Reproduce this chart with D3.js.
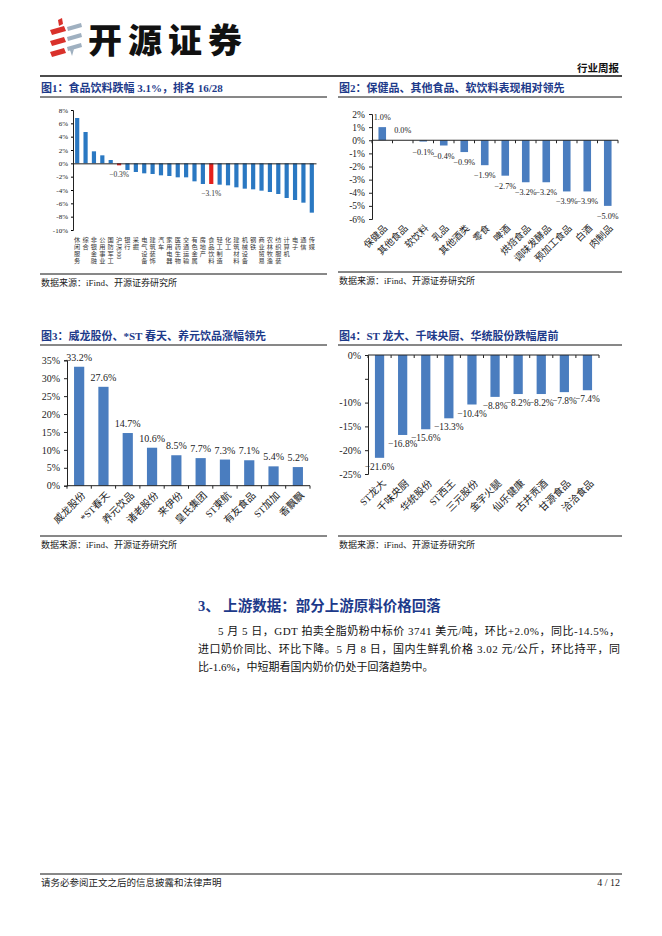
<!DOCTYPE html>
<html><head><meta charset="utf-8">
<script src="https://cdn.jsdelivr.net/npm/d3@7"></script>
<style>
html,body{margin:0;padding:0;background:#fff;}
svg{display:block;}
</style></head>
<body>
<div id="page"></div>
<script>
// 图1 申万行业周涨跌幅
const industries = ['休闲服务','综合','非银金融','公用事业','国防军工','沪深300','银行','采掘','电气设备','建筑装饰','汽车','家用电器','医药生物','交通运输','有色金属','房地产','食品饮料','轻工制造','化工','建筑材料','机械设备','钢铁','商业贸易','农林牧渔','纺织服装','计算机','电子','通信','传媒'];
const industryChg = [6.8,4.7,1.8,1.2,0.5,-0.3,-1.0,-1.3,-1.5,-1.6,-1.8,-1.9,-2.1,-2.1,-2.7,-3.1,-3.1,-3.2,-3.3,-3.6,-3.8,-3.9,-4.1,-4.3,-4.6,-5.2,-5.5,-5.9,-7.4];
const industryTicks = [8,6,4,2,0,-2,-4,-6,-8,-10];

// 图2 子板块
const subSectors = ['保健品','其他食品','软饮料','乳品','其他酒类','零食','啤酒','烘焙食品','调味发酵品','预加工食品','白酒','肉制品'];
const subSectorChg = [1.0,0.0,-0.1,-0.4,-0.9,-1.9,-2.7,-3.2,-3.2,-3.9,-3.9,-5.0];
const subSectorTicks = [2,1,0,-1,-2,-3,-4,-5,-6];

// 图3 涨幅前十
const gainers = ['威龙股份','*ST春天','养元饮品','诸老股份','来伊份','皇氏集团','ST東航','有友食品','ST加加','香飘飘'];
const gainerChg = [33.2,27.6,14.7,10.6,8.5,7.7,7.3,7.1,5.4,5.2];
const gainerTicks = [0,5,10,15,20,25,30,35];

// 图4 跌幅前十
const losers = ['ST龙大','千味央厨','华统股份','ST西王','三元股份','金字火腿','仙乐健康','古井贡酒','甘源食品','洽洽食品'];
const loserChg = [-21.6,-16.8,-15.6,-13.3,-10.4,-8.8,-8.2,-8.2,-7.8,-7.4];
const loserTicks = [0,-5,-10,-15,-20,-25];
const loserTickLabels = ['0%','','-10%','-15%','-20%','-25%'];

const W = 662, H = 936;
const SERIF = "'Liberation Serif','Noto Sans CJK SC',serif";
const CJK = "'Liberation Serif','Noto Sans CJK SC',sans-serif";
const NAVY = '#1d3a8a';
const BLUE1 = '#2a78c2';
const BLUE = '#4a7dbf';
const RED = '#e3201c';

const svg = d3.select('#page').append('svg').attr('width', W).attr('height', H);

// ---------- header ----------
const logo = svg.append('g');
const red = '#d9312b', grey = '#9fb0c0';
[0, 11, 22].forEach(dy => {
  logo.append('path')
    .attr('d', `M50,${30+dy} L64,${26+dy} L66,${31+dy} L52,${35+dy} Z`)
    .attr('fill', red);
});
logo.append('path').attr('d', 'M58,20 L62,18 L63,24 L59,26 Z').attr('fill', red);
[0, 10, 20].forEach(dy => {
  logo.append('path')
    .attr('d', `M67,${27+dy} L81,${23+dy} L82,${27+dy} L68,${31+dy} Z`)
    .attr('fill', grey);
});
logo.append('path').attr('d', 'M70,50 L74,49 L72,56 Z').attr('fill', grey);

svg.append('text').attr('x', 88).attr('y', 53)
  .attr('font-family', "'Noto Sans CJK SC',sans-serif").attr('font-weight', 900)
  .attr('font-size', 34).attr('letter-spacing', 6).attr('fill', '#111')
  .text('开源证券');

svg.append('text').attr('x', 619).attr('y', 72).attr('text-anchor', 'end')
  .attr('font-family', CJK).attr('font-weight', 700).attr('font-size', 10.5).attr('fill', '#111')
  .text('行业周报');
svg.append('line').attr('x1', 40).attr('x2', 622).attr('y1', 76).attr('y2', 76)
  .attr('stroke', '#111').attr('stroke-width', 1.3);

// ---------- figure frames ----------
function frame(x, y, w, title, srcY) {
  svg.append('text').attr('x', x + 1).attr('y', y)
    .attr('font-family', CJK).attr('font-weight', 700).attr('font-size', 11).attr('fill', NAVY)
    .text(title);
  svg.append('line').attr('x1', x).attr('x2', x + w).attr('y1', y + 5).attr('y2', y + 5)
    .attr('stroke', '#111').attr('stroke-width', 1);
  svg.append('line').attr('x1', x).attr('x2', x + w).attr('y1', srcY).attr('y2', srcY)
    .attr('stroke', '#111').attr('stroke-width', 1);
  svg.append('text').attr('x', x + 1).attr('y', srcY + 12)
    .attr('font-family', CJK).attr('font-size', 9).attr('fill', '#222')
    .text('数据来源：iFind、开源证券研究所');
}
frame(40, 92, 287, '图1：食品饮料跌幅 3.1%，排名 16/28', 274);
frame(338, 92, 284, '图2：保健品、其他食品、软饮料表现相对领先', 272);
frame(40, 340, 287, '图3：威龙股份、*ST 春天、养元饮品涨幅领先', 536);
frame(338, 340, 284, '图4：ST 龙大、千味央厨、华统股份跌幅居前', 536);

const pct = d => d3.format('.1f')(d) + '%';

// ---------- 图1 ----------
{
  const x = d3.scaleBand().domain(industries).range([73, 316]).paddingInner(0.5).paddingOuter(0.25);
  const y = d3.scaleLinear().domain([-10, 8]).range([230, 110]);
  const g = svg.append('g');
  g.append('g').attr('transform', 'translate(73,0)')
    .call(d3.axisLeft(y).tickValues(industryTicks).tickSize(2).tickFormat(d => d + '%'))
    .call(a => a.select('.domain').attr('stroke', '#222'))
    .call(a => a.selectAll('text').attr('font-family', SERIF).attr('font-size', 7).attr('fill', '#222'));
  g.selectAll('rect').data(industries).join('rect')
    .attr('x', d => x(d)).attr('width', x.bandwidth())
    .attr('y', (d, i) => y(Math.max(0, industryChg[i])))
    .attr('height', (d, i) => Math.abs(y(industryChg[i]) - y(0)))
    .attr('fill', d => (d === '食品饮料' || d === '沪深300') ? RED : BLUE1);
  g.append('g').attr('transform', `translate(0,${y(0)})`)
    .call(d3.axisBottom(x).tickSize(0).tickFormat(''))
    .call(a => a.select('.domain').attr('stroke', '#222'));
  // vertical (stacked) category labels
  industries.forEach(name => {
    const cx = x(name) + x.bandwidth() / 2;
    let yy = 239;
    const tokens = name.match(/\d+|./g);
    tokens.forEach(tk => {
      if (/^\d+$/.test(tk)) {
        g.append('text').attr('transform', `translate(${cx - 2},${yy - 3.5}) rotate(90)`)
          .attr('font-family', SERIF).attr('font-size', 6.2).attr('fill', '#333').text(tk);
        yy += tk.length * 3.3 + 1;
      } else {
        g.append('text').attr('x', cx).attr('y', yy).attr('text-anchor', 'middle')
          .attr('dominant-baseline', 'central')
          .attr('font-family', CJK).attr('font-size', 6.2).attr('fill', '#333').text(tk);
        yy += 7.3;
      }
    });
  });
  ['沪深300', '食品饮料'].forEach(k => {
    const i = industries.indexOf(k);
    g.append('text').attr('x', x(k) + x.bandwidth() / 2).attr('y', y(industryChg[i]) + 12)
      .attr('text-anchor', 'middle').attr('font-family', SERIF).attr('font-size', 7.5).attr('fill', '#333')
      .text(pct(industryChg[i]));
  });
}

// ---------- generic bar chart ----------
function barChart({cats, vals, x0, x1, yDomain, yRange, ticks, tickLabels, fs, vfs, labelGap, catY, catDx, barPad, yLabelFs}) {
  const g = svg.append('g');
  const x = d3.scaleBand().domain(cats).range([x0, x1]).paddingInner(barPad).paddingOuter(barPad / 2);
  const y = d3.scaleLinear().domain(yDomain).range(yRange);
  g.append('g').attr('transform', `translate(${x0},0)`)
    .call(d3.axisLeft(y).tickValues(ticks).tickSize(3).tickPadding(4)
      .tickFormat((d, i) => tickLabels ? tickLabels[i] : d + '%'))
    .call(a => a.select('.domain').attr('stroke', '#222'))
    .call(a => a.selectAll('line').attr('stroke', '#222'))
    .call(a => a.selectAll('text').attr('font-family', SERIF).attr('font-size', yLabelFs).attr('fill', '#222'));
  g.selectAll('rect').data(cats).join('rect')
    .attr('x', d => x(d)).attr('width', x.bandwidth())
    .attr('y', (d, i) => y(Math.max(0, vals[i])))
    .attr('height', (d, i) => Math.abs(y(vals[i]) - y(0)))
    .attr('fill', BLUE);
  // zero axis with ticks at band edges
  const edges = cats.map(d => x(d) - x.step() * x.paddingInner() / 2).concat([x1]);
  g.append('line').attr('x1', x0).attr('x2', x1).attr('y1', y(0)).attr('y2', y(0)).attr('stroke', '#222');
  g.selectAll('line.edge').data(edges).join('line').attr('class', 'edge')
    .attr('x1', d => d).attr('x2', d => d).attr('y1', y(0)).attr('y2', y(0) + 3).attr('stroke', '#222');
  g.selectAll('text.val').data(cats).join('text').attr('class', 'val')
    .attr('x', d => x(d) + x.bandwidth() / 2)
    .attr('y', (d, i) => vals[i] >= 0 ? y(vals[i]) - labelGap + 3 : y(vals[i]) + labelGap + 3)
    .attr('text-anchor', 'middle').attr('font-family', SERIF).attr('font-size', vfs).attr('fill', '#222')
    .text((d, i) => pct(vals[i]));
  g.selectAll('text.cat').data(cats).join('text').attr('class', 'cat')
    .attr('transform', d => `translate(${x(d) + x.bandwidth() / 2 + catDx},${catY}) rotate(-45)`)
    .attr('text-anchor', 'end').attr('dy', '0.7em')
    .attr('font-family', CJK).attr('font-size', fs).attr('fill', '#222')
    .text(d => d);
  return {x, y};
}

// 图2
barChart({cats: subSectors, vals: subSectorChg, x0: 372, x1: 618, yDomain: [-6, 2], yRange: [219, 114],
  ticks: subSectorTicks, fs: 9.5, vfs: 8.2, labelGap: 10, catY: 224, catDx: 1, barPad: 0.63, yLabelFs: 9.5});
// 图3
barChart({cats: gainers, vals: gainerChg, x0: 67, x1: 310, yDomain: [0, 35], yRange: [485.7, 360.3],
  ticks: gainerTicks, fs: 10, vfs: 10, labelGap: 9, catY: 491, catDx: 2, barPad: 0.58, yLabelFs: 10});
// 图4
barChart({cats: losers, vals: loserChg, x0: 368, x1: 599, yDomain: [-25, 0], yRange: [474, 355],
  ticks: loserTicks, tickLabels: loserTickLabels, fs: 10, vfs: 9.4, labelGap: 9, catY: 479, catDx: 2, barPad: 0.6, yLabelFs: 10});

// ---------- section ----------
svg.append('text').attr('x', 198).attr('y', 611)
  .attr('font-family', CJK).attr('font-weight', 700).attr('font-size', 14.5).attr('fill', NAVY)
  .text('3、 上游数据：部分上游原料价格回落');
const para = [
  {x: 218, y: 635, t: '5 月 5 日，GDT 拍卖全脂奶粉中标价 3741 美元/吨，环比+2.0%，同比-14.5%，', w: 402},
  {x: 198, y: 653, t: '进口奶价同比、环比下降。5 月 8 日，国内生鲜乳价格 3.02 元/公斤，环比持平，同', w: 422},
  {x: 198, y: 671, t: '比-1.6%，中短期看国内奶价仍处于回落趋势中。'}
];
para.forEach(p => {
  const t = svg.append('text').attr('x', p.x).attr('y', p.y)
    .attr('font-family', CJK).attr('font-size', 11).attr('fill', '#111').text(p.t);
  if (p.w) t.attr('textLength', p.w).attr('lengthAdjust', 'spacing');
});

// ---------- footer ----------
svg.append('line').attr('x1', 40).attr('x2', 622).attr('y1', 874).attr('y2', 874)
  .attr('stroke', '#111').attr('stroke-width', 1);
svg.append('text').attr('x', 41).attr('y', 886)
  .attr('font-family', CJK).attr('font-size', 9.5).attr('fill', '#222')
  .text('请务必参阅正文之后的信息披露和法律声明');
svg.append('text').attr('x', 620).attr('y', 886).attr('text-anchor', 'end')
  .attr('font-family', SERIF).attr('font-size', 10).attr('fill', '#222')
  .text('4 / 12');
</script>
</body></html>
